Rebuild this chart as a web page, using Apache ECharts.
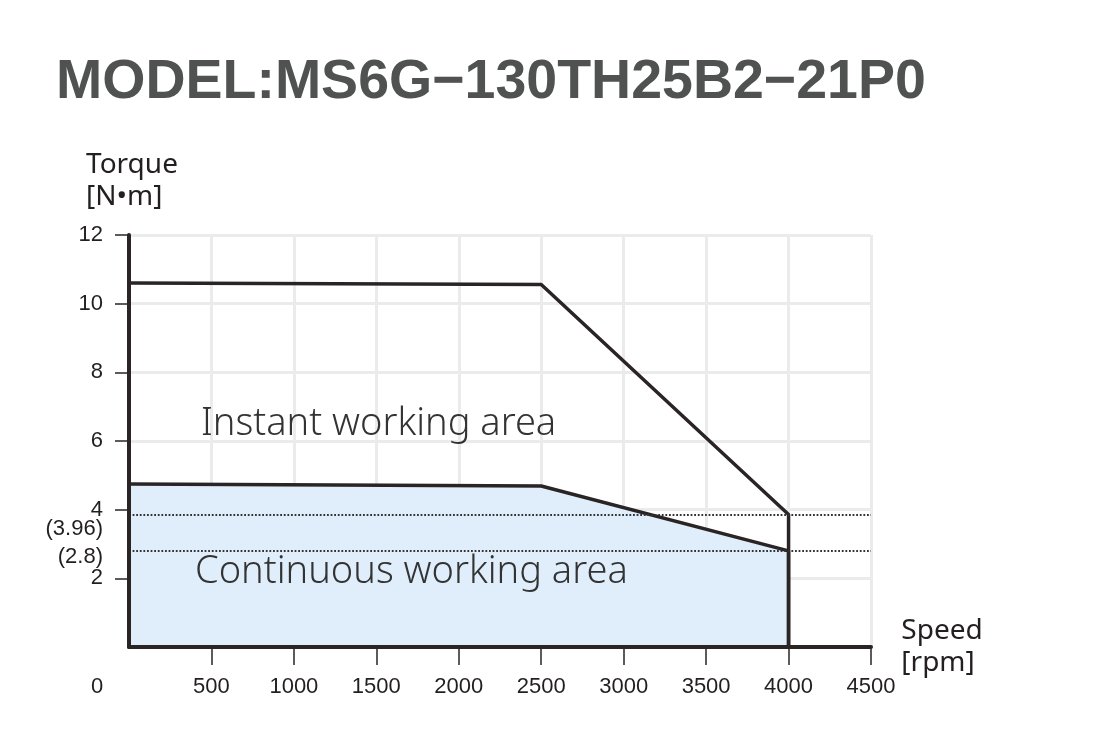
<!DOCTYPE html>
<html>
<head>
<meta charset="utf-8">
<script src="https://cdn.jsdelivr.net/npm/echarts@6/dist/echarts.min.js"></script>
<style>
  html, body { margin: 0; padding: 0; background: #ffffff; }
  #chart { width: 1111px; height: 753px; }
</style>
</head>
<body>
<div id="chart"></div>
<script>
// ---- data ----
const titleText = 'MODEL:MS6G\u2212130TH25B2\u221221P0';
const xNameLines = ['Speed', '[rpm]'];
const yNameLines = ['Torque', '[N\u2022m]'];
const speedTicks = [500, 1000, 1500, 2000, 2500, 3000, 3500, 4000, 4500];
const torqueTicks = [2, 4, 6, 8, 10, 12];
const instantSpeed = [0, 2500, 4000, 4000];
const instantTorque = [10.6, 10.56, 3.86, 0];
const continuousSpeed = [0, 2500, 4000, 4000];
const continuousTorque = [4.75, 4.69, 2.8, 0];
const refValues = [3.86, 2.8];
const refLabels = ['(3.96)', '(2.8)'];
const areaLabels = ['Instant working area', 'Continuous working area'];
const originLabel = '0';

const instantData = instantSpeed.map((s, i) => [s, instantTorque[i]]);
const continuousData = continuousSpeed.map((s, i) => [s, continuousTorque[i]]);

const dark = '#2b2425';
const gridColor = '#ebebeb';
const nameStyle = { fontFamily: 'Noto Sans', fontSize: 28, lineHeight: 32, color: '#231f20', align: 'left' };
const tickFont = { fontFamily: 'Liberation Sans', fontSize: 22, color: '#231f20' };

const chart = echarts.init(document.getElementById('chart'));
chart.setOption({
  animation: false,
  backgroundColor: '#ffffff',
  title: {
    text: titleText,
    left: 51,
    top: 50,
    textStyle: { fontFamily: 'Liberation Sans', fontWeight: 'bold', fontSize: 55.5, color: '#4f5251' }
  },
  grid: { left: 129, right: 240, top: 235, bottom: 106 },
  xAxis: [
    { // background grid lines (below series)
      type: 'value', min: 0, max: 4500, interval: 500, z: 0,
      axisLine: { show: false }, axisTick: { show: false }, axisLabel: { show: false },
      splitLine: { show: true, lineStyle: { color: gridColor, width: 3 } }
    },
    { // axis line, ticks, labels (above series)
      type: 'value', min: 0, max: 4500, interval: 500, z: 5, position: 'bottom',
      name: xNameLines.map(t => '{a|' + t + '}').join('\n'),
      nameLocation: 'end',
      nameGap: 18,
      nameTextStyle: { align: 'left', verticalAlign: 'middle', rich: { a: nameStyle } },
      axisLine: { show: true, onZero: false, lineStyle: { color: dark, width: 4 } },
      axisTick: { show: true, length: 18, customValues: speedTicks, lineStyle: { color: dark, width: 1.5 } },
      axisLabel: Object.assign({ margin: 29, customValues: speedTicks,
        formatter: v => (v === 0 ? '' : String(v)) }, tickFont),
      splitLine: { show: false }
    }
  ],
  yAxis: [
    {
      type: 'value', min: 0, max: 12, interval: 2, z: 0,
      axisLine: { show: false }, axisTick: { show: false }, axisLabel: { show: false },
      splitLine: { show: true, lineStyle: { color: gridColor, width: 3 } }
    },
    {
      type: 'value', min: 0, max: 12, interval: 2, z: 5, position: 'left',
      name: yNameLines.map(t => '{a|' + t + '}').join('\n'),
      nameLocation: 'end',
      nameGap: 22,
      nameTextStyle: { align: 'center', verticalAlign: 'bottom', padding: [0, 0, 0, 6], rich: { a: nameStyle } },
      axisLine: { show: true, onZero: false, lineStyle: { color: dark, width: 4 } },
      axisTick: { show: true, inside: false, length: 14, customValues: torqueTicks, lineStyle: { color: dark, width: 1.5 } },
      axisLabel: Object.assign({ margin: 26, customValues: torqueTicks,
        formatter: v => (v === 0 ? '' : String(v)) }, tickFont),
      splitLine: { show: false }
    }
  ],
  series: [
    {
      name: 'Continuous',
      type: 'line',
      xAxisIndex: 0, yAxisIndex: 0,
      data: continuousData,
      symbol: 'none',
      z: 3,
      lineStyle: { color: dark, width: 3.5 },
      areaStyle: { color: '#dfeefa', opacity: 1, origin: 0 },
      markLine: {
        silent: true,
        symbol: 'none',
        lineStyle: { type: 'dotted', color: '#333333', width: 1.8 },
        data: refValues.map((v, i) => ({
          yAxis: v,
          label: Object.assign({
            show: true,
            position: 'start',
            distance: 26,
            formatter: refLabels[i],
            offset: [0, i === 0 ? 14 : 6]
          }, tickFont)
        }))
      }
    },
    {
      name: 'Instant',
      type: 'line',
      xAxisIndex: 0, yAxisIndex: 0,
      data: instantData,
      symbol: 'none',
      z: 4,
      lineStyle: { color: dark, width: 3.5 }
    }
  ],
  graphic: [
    { type: 'text', left: 91, top: 676, z: 10,
      style: { text: originLabel, fontFamily: 'Liberation Sans', fontSize: 22, fill: '#231f20' } },
    { type: 'text', left: 201, top: 405, z: 10,
      style: { text: areaLabels[0], fontFamily: 'Noto Sans', fontWeight: 300, fontSize: 38, fill: '#333333' } },
    { type: 'text', left: 195, top: 553, z: 10,
      style: { text: areaLabels[1], fontFamily: 'Noto Sans', fontWeight: 300, fontSize: 38, fill: '#333333' } }
  ]
});
</script>
</body>
</html>
